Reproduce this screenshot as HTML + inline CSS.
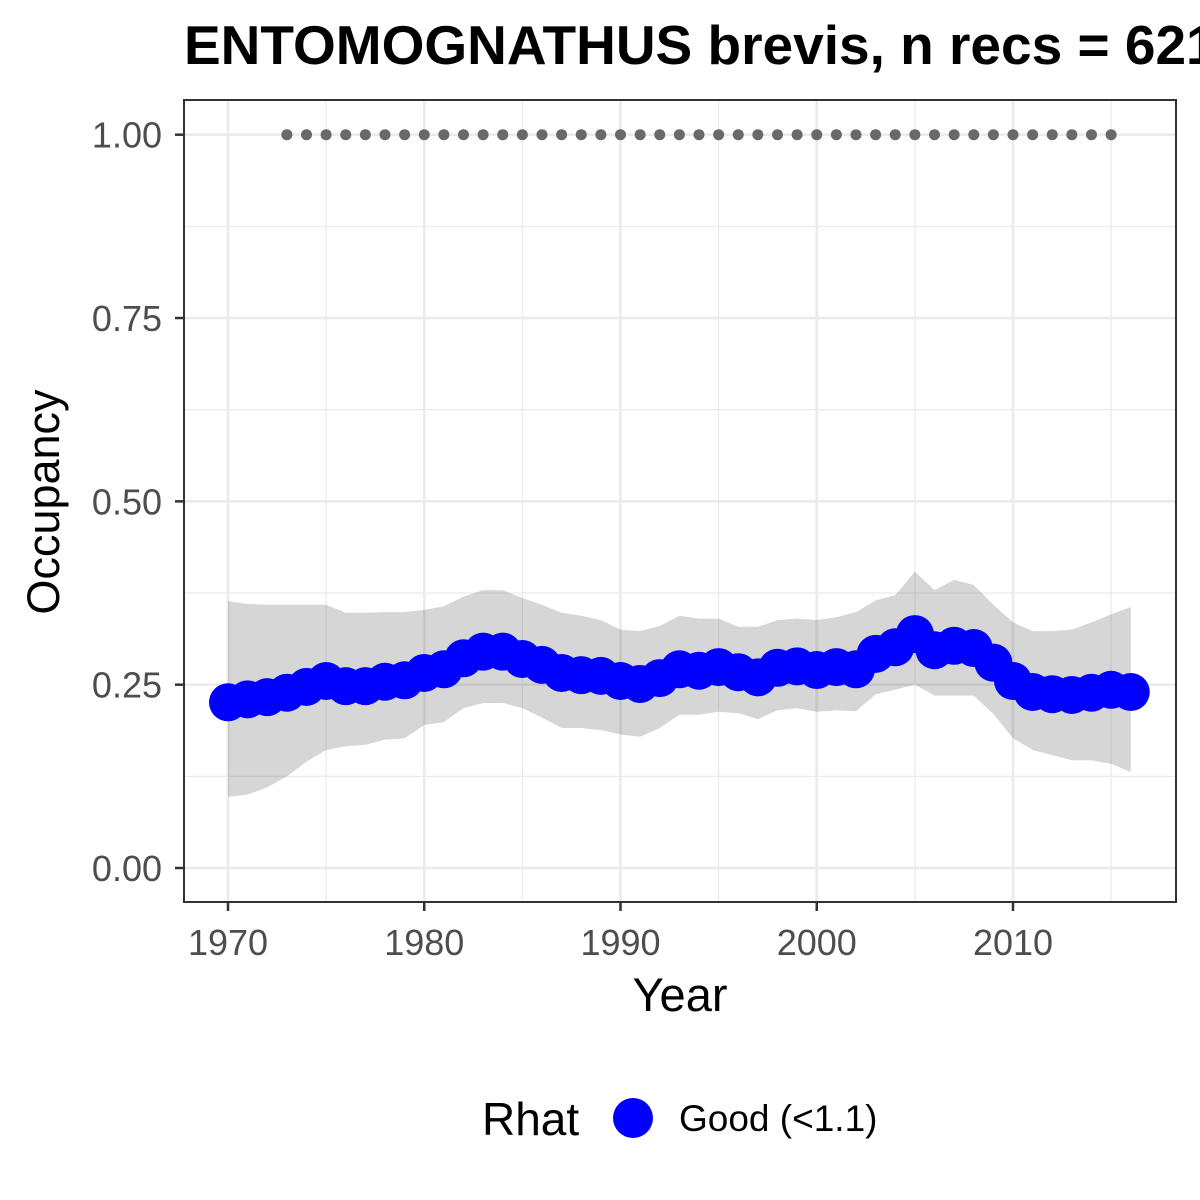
<!DOCTYPE html>
<html><head><meta charset="utf-8"><style>
html,body{margin:0;padding:0;background:#fff;overflow:hidden}
svg{display:block;font-family:"Liberation Sans",Arial,sans-serif}
</style></head><body>
<svg id="chart" width="1200" height="1200" viewBox="0 0 1200 1200">
<text x="184" y="64" font-size="55" font-weight="bold" fill="#000">ENTOMOGNATHUS brevis, n recs = 621</text>
<g id="grid"></g>
<g id="band"></g>
<g id="dots"></g>
<g id="pts"></g>
<rect x="184" y="100" width="992" height="802" fill="none" stroke="#333" stroke-width="2"/>
<g id="axes"></g>
<text x="680" y="1011" font-size="47" text-anchor="middle" fill="#000">Year</text>
<text transform="translate(59,502) rotate(-90)" font-size="45" text-anchor="middle" fill="#000">Occupancy</text>
<g>
<text x="482" y="1135" font-size="46" fill="#000">Rhat</text>
<circle cx="633" cy="1118" r="20" fill="#0000ff"/>
<text x="679" y="1131" font-size="37" fill="#000">Good (&lt;1.1)</text>
</g>
</svg>
<script>
const years = [1970,1971,1972,1973,1974,1975,1976,1977,1978,1979,1980,1981,1982,1983,1984,1985,1986,1987,1988,1989,1990,1991,1992,1993,1994,1995,1996,1997,1998,1999,2000,2001,2002,2003,2004,2005,2006,2007,2008,2009,2010,2011,2012,2013,2014,2015,2016];
const occMean = [0.226,0.230,0.233,0.239,0.247,0.255,0.248,0.248,0.254,0.256,0.266,0.271,0.286,0.295,0.295,0.285,0.277,0.266,0.263,0.262,0.255,0.251,0.259,0.271,0.269,0.274,0.267,0.260,0.273,0.275,0.270,0.274,0.271,0.292,0.301,0.319,0.297,0.303,0.300,0.280,0.255,0.240,0.237,0.236,0.239,0.243,0.240];
const occUpper = [0.364,0.360,0.359,0.359,0.359,0.359,0.348,0.348,0.349,0.349,0.352,0.357,0.370,0.379,0.379,0.368,0.359,0.348,0.344,0.338,0.325,0.323,0.330,0.344,0.340,0.340,0.329,0.329,0.338,0.340,0.338,0.342,0.349,0.365,0.372,0.404,0.379,0.393,0.386,0.359,0.335,0.323,0.323,0.325,0.335,0.346,0.356];
const occLower = [0.097,0.100,0.110,0.125,0.145,0.161,0.166,0.168,0.175,0.177,0.195,0.199,0.218,0.225,0.225,0.218,0.205,0.191,0.191,0.188,0.182,0.179,0.191,0.209,0.209,0.213,0.211,0.203,0.215,0.218,0.213,0.215,0.214,0.237,0.243,0.250,0.235,0.235,0.235,0.210,0.177,0.161,0.154,0.147,0.147,0.142,0.131];
const recordYears = [1973,1974,1975,1976,1977,1978,1979,1980,1981,1982,1983,1984,1985,1986,1987,1988,1989,1990,1991,1992,1993,1994,1995,1996,1997,1998,1999,2000,2001,2002,2003,2004,2005,2006,2007,2008,2009,2010,2011,2012,2013,2014,2015];
const xTicks = [1970,1980,1990,2000,2010];
const xMinor = [1975,1985,1995,2005,2015];
const yTicks = [0,0.25,0.5,0.75,1];
const yTickLabels = ["0.00","0.25","0.50","0.75","1.00"];
const yMinor = [0.125,0.375,0.625,0.875];

const NS="http://www.w3.org/2000/svg";
const L=184,R=1176,T=100,B=902;
const xs = y => 228 + (y-1970)*(1013-228)/40;
const ys = v => 868 - v*733.3;
function mk(parent,tag,attrs){const e=document.createElementNS(NS,tag);for(const k in attrs)e.setAttribute(k,attrs[k]);parent.appendChild(e);return e;}

const grid=document.getElementById('grid');
yMinor.forEach(v=>{const e=mk(grid,'line',{x1:L,x2:R,y1:ys(v),y2:ys(v),stroke:'#ebebeb','stroke-width':1.3});

});
xMinor.forEach(v=>{const e=mk(grid,'line',{x1:xs(v),x2:xs(v),y1:T,y2:B,stroke:'#ebebeb','stroke-width':1.3});

});
yTicks.forEach(v=>{const e=mk(grid,'line',{x1:L,x2:R,y1:ys(v),y2:ys(v),stroke:'#ebebeb','stroke-width':2.7});

});
xTicks.forEach(v=>{const e=mk(grid,'line',{x1:xs(v),x2:xs(v),y1:T,y2:B,stroke:'#ebebeb','stroke-width':2.7});

});

const band=document.getElementById('band');
let d='M'+years.map((y,i)=>xs(y)+','+ys(occUpper[i])).join(' L');
for(let i=years.length-1;i>=0;i--) d+=' L'+xs(years[i])+','+ys(occLower[i]);
const bp=mk(band,'path',{d:d+' Z',fill:'#333','fill-opacity':0.2});



const dots=document.getElementById('dots');
recordYears.forEach(y=>{const c=mk(dots,'circle',{cx:xs(y),cy:ys(1),r:5.5,fill:'#696969'});

});

const pts=document.getElementById('pts');
years.forEach((y,i)=>{const c=mk(pts,'circle',{cx:xs(y),cy:ys(occMean[i]),r:19,fill:'#0000ff'});

});

const axes=document.getElementById('axes');
yTicks.forEach((v,i)=>{
 const t=mk(axes,'line',{x1:L-9,x2:L,y1:ys(v),y2:ys(v),stroke:'#333','stroke-width':2.5});
 
 
 const tx=mk(axes,'text',{x:L-22,y:ys(v)+13,'font-size':36,'text-anchor':'end',fill:'#4d4d4d'});
 tx.textContent=yTickLabels[i];
 
 
});
xTicks.forEach(v=>{
 const t=mk(axes,'line',{x1:xs(v),x2:xs(v),y1:B,y2:B+9,stroke:'#333','stroke-width':2.5});
 
 
 const tx=mk(axes,'text',{x:xs(v),y:B+53,'font-size':36,'text-anchor':'middle',fill:'#4d4d4d'});
 tx.textContent=v;
 
 
});
</script>
</body></html>
